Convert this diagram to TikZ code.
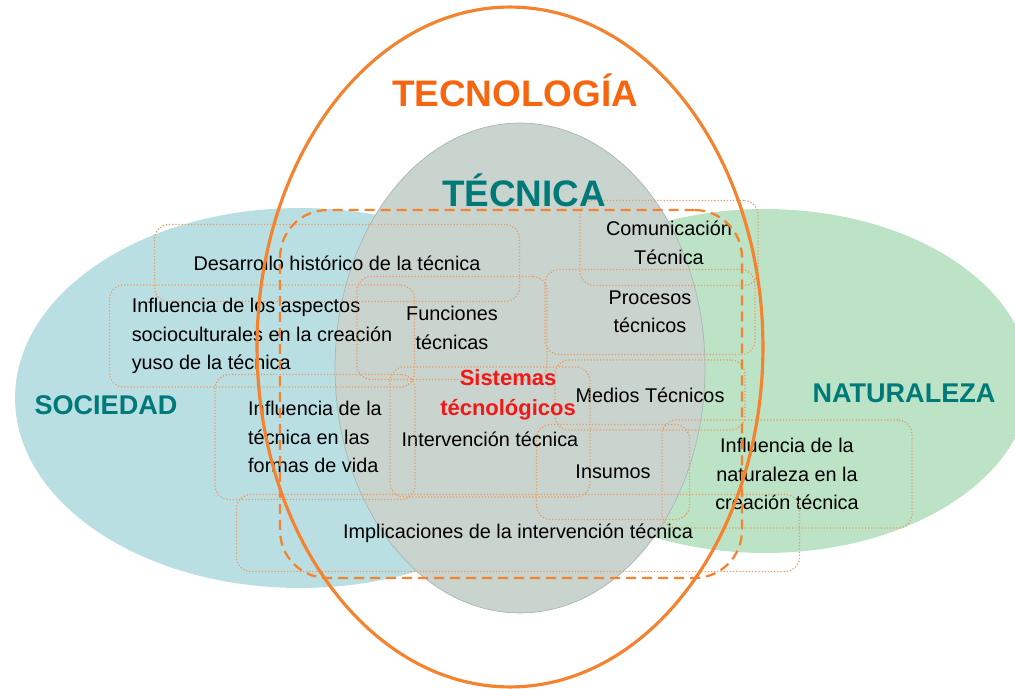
\documentclass[tikz,border=0pt]{standalone}
\usepackage{fontspec}
\setmainfont{Liberation Sans}
\usepackage{xcolor}
\usepackage{tikz}
\usetikzlibrary{shapes.geometric}

\definecolor{socfill}{HTML}{B9DFE3}
\definecolor{natfill}{HTML}{BCE3C6}
\definecolor{tecfill}{HTML}{C9D4CF}
\definecolor{tecline}{HTML}{A9B6B1}
\definecolor{orangeline}{HTML}{F5822F}
\definecolor{boxline}{HTML}{EE9A5E}
\definecolor{titleorange}{HTML}{F7650F}
\definecolor{teal}{HTML}{007A78}
\definecolor{sysred}{HTML}{F21818}

\begin{document}
\begin{tikzpicture}[
    x=0.02cm, y=-0.02cm,
    font=\fontsize{11.3}{16.2}\selectfont,
    area/.style={ellipse, inner sep=0pt},
    topic/.style={draw=boxline, line width=0.7pt, dash pattern=on 0.7pt off 1.1pt, rounded corners=8pt, align=center, inner sep=0pt},
    bigtitle/.style={font=\bfseries\fontsize{21}{21}\selectfont},
    sidetitle/.style={text=teal, font=\bfseries\fontsize{15.4}{16}\selectfont},
    sysframe/.style={draw=orangeline, line width=1.3pt, dash pattern=on 0.2cm off 0.12cm, rounded corners=27pt, inner sep=0pt}
  ]
    \useasboundingbox (0,0) rectangle (1015,689);

    % the three areas
    \node[area, fill=socfill, minimum width=11.4cm, minimum height=7.6cm] (sociedad) at (300,398) {};
    \node[area, fill=natfill, minimum width=10.6cm, minimum height=6.88cm] (naturaleza) at (765,381) {};
    \node[area, fill=tecfill, draw=tecline, line width=0.4pt, minimum width=7.4cm, minimum height=9.8cm] (tecnica) at (520,368) {};

    % topics
    \node[topic, minimum width=7.3cm, minimum height=1.54cm] (desarrollo) at (337,263) {Desarrollo histórico de la técnica};
    \node[topic, minimum width=6.1cm, minimum height=2.04cm, align=left] (socio) at (262,336) {Influencia de los aspectos\\socioculturales en la creación\\yuso de la técnica};
    \node[topic, minimum width=3.8cm, minimum height=2.06cm] (funciones) at (452,328) {Funciones\\técnicas};
    \node[topic, minimum width=3.56cm, minimum height=1.7cm] (comunicacion) at (669,243) {Comunicación\\Técnica};
    \node[topic, minimum width=4.2cm, minimum height=1.7cm] (procesos) at (650,312) {Procesos\\técnicos};
    \node[topic, minimum width=3.8cm, minimum height=1.4cm] (medios) at (650,395) {Medios Técnicos};
    \node[topic, minimum width=4cm, minimum height=2.6cm] (intervencion) at (490,432) {\\Intervención técnica};
    \node[topic, minimum width=3.06cm, minimum height=1.9cm] (insumos) at (613,472) {Insumos};
    \node[topic, minimum width=4cm, minimum height=2.5cm, align=left] (formas) at (315,437) {Influencia de la\\técnica en las\\formas de vida};
    \node[topic, minimum width=5cm, minimum height=2.16cm] (infnat) at (787,474) {Influencia de la\\naturaleza en la\\creación técnica};
    \node[topic, minimum width=11.26cm, minimum height=1.54cm] (implicaciones) at (518,533) {Implicaciones de la intervención técnica};

    % technology and the systems frame
    \node[area, draw=orangeline, line width=1.8pt, minimum width=10.12cm, minimum height=13.6cm] (tecnologia) at (510,347) {};
    \node[sysframe, minimum width=9.24cm, minimum height=7.36cm] (sistemas) at (511,394) {};

    % titles
    \node[bigtitle, text=titleorange] (tecnologiatitle) at (515,90) {TECNOLOGÍA};
    \node[bigtitle, text=teal] (tecnicatitle) at (524,190) {TÉCNICA};
    \node[sidetitle] (sociedadtitle) at (106,405) {SOCIEDAD};
    \node[sidetitle] (naturalezatitle) at (904,393) {NATURALEZA};
    \node[text=sysred, align=center, font=\bfseries\fontsize{12.5}{17}\selectfont] (sistemastitle) at (508,395) {Sistemas\\técnológicos};
  \end{tikzpicture}
\end{document}
